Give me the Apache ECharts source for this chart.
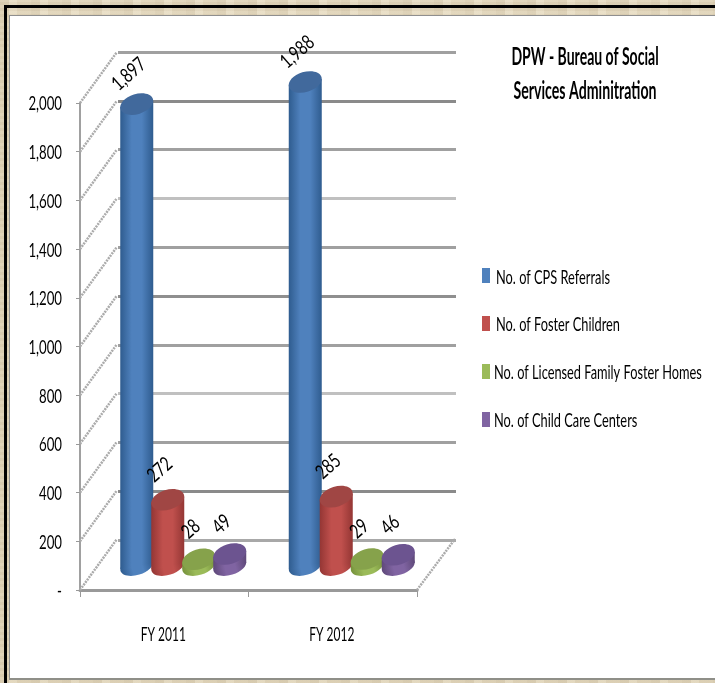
<!DOCTYPE html>
<html>
<head>
<meta charset="utf-8">
<style>
  html, body { margin: 0; padding: 0; width: 715px; height: 683px; overflow: hidden; }
  /* stone texture round the slide */
  body {
    background-color: #e4d9bf;
    background-image:
      repeating-linear-gradient(90deg, rgba(150,130,95,0.10) 0 9px, rgba(255,250,235,0.14) 9px 17px, rgba(170,150,115,0.06) 17px 31px),
      repeating-linear-gradient(0deg, rgba(150,130,95,0.07) 0 3px, rgba(255,250,235,0.07) 3px 6px);
  }
  .edge { position: absolute; left: 4px; top: 5px; right: 0; height: 3px; background: #000; }
  .edge-left { position: absolute; left: 4px; top: 5px; bottom: 0; width: 3px; background: #000; }
  .panel {
    position: absolute; left: 9px; top: 15px; right: 0; bottom: 3px;
    background: #fff; border-left: 1px solid #8f8f8f; border-top: 1px solid #8f8f8f;
    border-bottom: 2px solid #8f8f88;
  }
  #chart { position: absolute; left: 0; top: 0; width: 715px; height: 683px; }
</style>
</head>
<body>
<div class="edge"></div>
<div class="edge-left"></div>
<div class="panel"></div>
<div id="chart"></div>
<script src="https://cdn.jsdelivr.net/npm/echarts@6/dist/echarts.min.js"></script>
<script>
const categories = ['FY 2011', 'FY 2012']
const seriesNames = ['No. of CPS Referrals', 'No. of Foster Children', 'No. of Licensed Family Foster Homes', 'No. of Child Care Centers']
const titleLines = ['DPW - Bureau of Social', 'Services Adminitration']
const yTicks = [0, 200, 400, 600, 800, 1000, 1200, 1400, 1600, 1800, 2000]
const yTickLabels = ['-', '200', '400', '600', '800', '1,000', '1,200', '1,400', '1,600', '1,800', '2,000']

const cpsReferrals = [1897, 1988]
const fosterChildren = [272, 285]
const fosterHomes = [28, 29]
const childCareCenters = [49, 46]

// 原图文字被横向压缩过，用 Lato + scaleX 近似
const FONT = 'Lato, "Liberation Sans", sans-serif'

// 后墙网格线颜色，从下往上（原图缩放后深浅不一）
const wallLineColors = ['#a8a8a8', '#8a8a8a', '#a0a0a0', '#c0c0c0', '#a0a0a0', '#8f8f8f', '#a0a0a0', '#c0c0c0', '#a0a0a0', '#8a8a8a', '#a0a0a0']

const DEPTH_X = 37
const DEPTH_Y = 51

function squeezedText(text, x, y, font, align, scaleX, rotation) {
  return {
    type: 'text',
    x,
    y,
    scaleX,
    rotation: rotation || 0,
    z2: 20,
    style: {
      text,
      font: font + ' ' + FONT,
      fill: '#000',
      align,
      verticalAlign: 'middle'
    }
  }
}

// 圆柱：前墙坐标往里挪一点，模拟 3D 透视
function makeCylinder(name, values, index, colors) {
  return {
    name,
    type: 'custom',
    xAxisIndex: 0,
    yAxisIndex: 0,
    itemStyle: { color: colors.main },
    data: values.map((v, i) => [i, v]),
    encode: { x: 0, y: 1 },
    z: 5,
    renderItem(params, api) {
      const top = api.coord([api.value(0), api.value(1)])
      const base = api.coord([api.value(0), 0])
      const cx = top[0] + 19 + (index - 1.5) * 31
      const topY = top[1] - 24
      const baseY = base[1] - 24
      const rx = 17
      const ry = 10
      const half = 16.5
      const slant = 3
      const tilt = 0.3
      const body = new echarts.graphic.LinearGradient(0, 0, 1, 0, [
        { offset: 0, color: colors.edge },
        { offset: 0.35, color: colors.main },
        { offset: 0.65, color: colors.main },
        { offset: 1, color: colors.edge }
      ])
      return {
        type: 'group',
        children: [
          {
            type: 'ellipse',
            shape: { cx, cy: baseY, rx, ry: ry - 1 },
            rotation: tilt,
            originX: cx,
            originY: baseY,
            style: { fill: body }
          },
          {
            type: 'polygon',
            shape: {
              points: [
                [cx - half, topY + slant],
                [cx + half, topY - slant],
                [cx + half, baseY - slant],
                [cx - half, baseY + slant]
              ]
            },
            style: { fill: body }
          },
          {
            type: 'ellipse',
            shape: { cx, cy: topY, rx, ry },
            rotation: tilt,
            originX: cx,
            originY: topY,
            style: { fill: colors.cap }
          },
          squeezedText(api.value(1).toLocaleString('en-US'), cx - 8, topY - 30, '20px', 'center', 0.75, 0.72)
        ]
      }
    }
  }
}

const chart = echarts.init(document.getElementById('chart'))

const legendRows = [[496, 278], [496, 325], [494, 373], [494, 421]]

const option = {
  backgroundColor: 'transparent',
  animation: false,
  legend: {
    left: 477,
    top: 263,
    orient: 'vertical',
    itemWidth: 8,
    itemHeight: 15,
    itemGap: 33,
    icon: 'rect',
    data: seriesNames,
    formatter: () => ''
  },
  // 标题和图例文字要压缩，legend/title 不支持 scaleX，所以放 graphic
  graphic: [
    squeezedText(titleLines[0], 585, 57, 'bold 24px', 'center', 0.585),
    squeezedText(titleLines[1], 585, 91, 'bold 24px', 'center', 0.59),
    ...seriesNames.map((name, i) => squeezedText(name, legendRows[i][0], legendRows[i][1], '20px', 'left', 0.64))
  ],
  grid: [
    { left: 80, top: 103, width: 337, height: 487 },
    { left: 118, top: 52, width: 338, height: 488 }
  ],
  xAxis: [
    {
      type: 'category',
      gridIndex: 0,
      data: categories,
      axisLine: { lineStyle: { color: '#999', width: 3 } },
      axisTick: { show: true, length: 7, lineStyle: { color: '#999', width: 1 } },
      axisLabel: { show: false }
    },
    { type: 'category', gridIndex: 1, data: categories, show: false }
  ],
  yAxis: [
    {
      type: 'value',
      gridIndex: 0,
      min: 0,
      max: 2000,
      interval: 200,
      axisLine: { show: true, lineStyle: { color: '#a0a0a0', width: 2 } },
      axisTick: { show: true, length: 4, lineStyle: { color: '#999', width: 1 } },
      axisLabel: { show: false },
      splitLine: { show: false }
    },
    {
      type: 'value',
      gridIndex: 1,
      min: 0,
      max: 2000,
      interval: 200,
      axisLine: { show: false },
      axisTick: { show: false },
      axisLabel: { show: false },
      splitLine: { show: true, lineStyle: { color: wallLineColors, width: 3 } }
    }
  ],
  series: [
    // 侧墙斜线 + 地板右边 + y 轴文字
    {
      name: 'walls',
      type: 'custom',
      xAxisIndex: 0,
      yAxisIndex: 0,
      data: yTicks.map((v, i) => [0, v, i]),
      encode: { x: 0, y: 1 },
      silent: true,
      z: 1,
      renderItem(params, api) {
        const y = api.coord([0, api.value(1)])[1]
        const x0 = params.coordSys.x
        const children = [
          {
            type: 'line',
            shape: { x1: x0, y1: y, x2: x0 + DEPTH_X, y2: y - DEPTH_Y },
            style: { stroke: '#ababab', lineWidth: 2.5, lineDash: [2, 1] }
          },
          squeezedText(yTickLabels[api.value(2)], 62, y + 1, '20px', 'right', 0.66)
        ]
        if (api.value(1) === 0) {
          const x1 = x0 + params.coordSys.width
          children.push({
            type: 'line',
            shape: { x1, y1: y, x2: x1 + DEPTH_X + 1, y2: y - DEPTH_Y },
            style: { stroke: '#ababab', lineWidth: 2.5, lineDash: [2, 1] }
          })
        }
        return { type: 'group', children }
      }
    },
    // 类目文字
    {
      name: 'categoryLabels',
      type: 'custom',
      xAxisIndex: 0,
      yAxisIndex: 0,
      data: categories.map((c, i) => [i, 0]),
      encode: { x: 0, y: 1 },
      silent: true,
      renderItem(params, api) {
        const p = api.coord([api.value(0), 0])
        return squeezedText(categories[api.value(0)], p[0] - 1, p[1] + 45, '20px', 'center', 0.6)
      }
    },
    makeCylinder(seriesNames[0], cpsReferrals, 0, { main: '#4f81bd', edge: '#2f5c8f', cap: '#41699c' }),
    makeCylinder(seriesNames[1], fosterChildren, 1, { main: '#c0504d', edge: '#943634', cap: '#a04644' }),
    makeCylinder(seriesNames[2], fosterHomes, 2, { main: '#9bbb59', edge: '#76923c', cap: '#86a24b' }),
    makeCylinder(seriesNames[3], childCareCenters, 3, { main: '#8064a2', edge: '#5f497a', cap: '#6c5490' })
  ]
}

chart.setOption(option)
</script>
</body>
</html>
